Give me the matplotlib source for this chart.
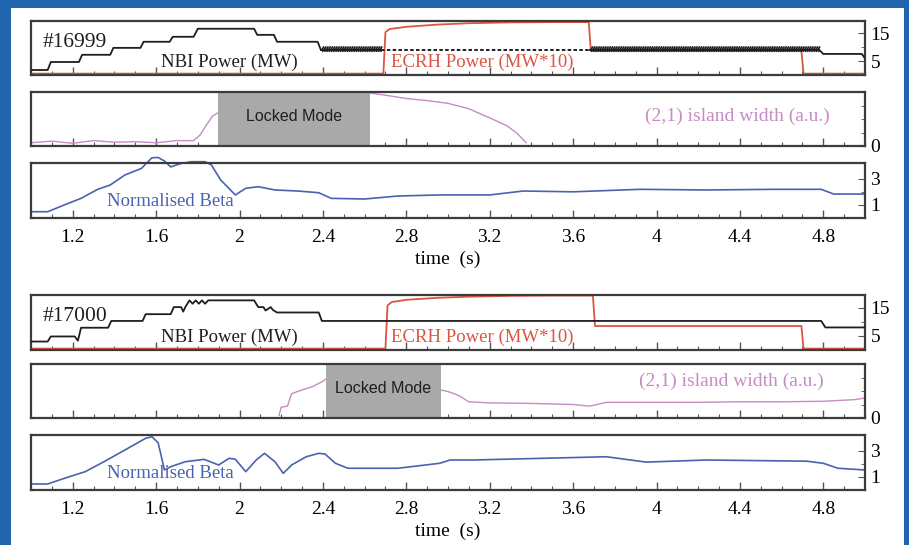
"""Two-shot overview: NBI/ECRH power, (2,1) island width and normalised beta."""
import matplotlib
matplotlib.use("Agg")
import matplotlib.pyplot as plt
import matplotlib.patheffects as pe
from matplotlib.patches import Rectangle
from matplotlib.ticker import FixedLocator, MultipleLocator

W, H = 909, 545

# ---- shot 16999 ----
SHOT_A = "#16999"
NBI_A_T = [1.0, 1.08, 1.095, 1.23, 1.245, 1.38, 1.395, 1.525, 1.54, 1.665, 1.68, 1.78, 1.80,
           2.07, 2.085, 2.165, 2.18, 2.375, 2.39]
NBI_A_P = [1.8, 1.8, 4.7, 4.7, 7.3, 7.3, 9.8, 9.8, 12.0, 12.0, 13.8, 13.8, 16.7,
           16.7, 14.5, 14.5, 12.0, 12.0, 9.1]
NBI_A_MOD_LEVEL = 9.1
NBI_A_ZIG = [(2.39, 2.68), (3.68, 4.78)]
NBI_A_DOT = [(2.68, 3.68)]
NBI_A_TAIL_T = [4.78, 4.80, 4.985, 5.0]
NBI_A_TAIL_P = [9.1, 7.6, 7.6, 6.0]
ECRH_A_T = [1.0, 2.69, 2.70, 2.72, 2.80, 2.95, 3.10, 3.30, 3.50, 3.675, 3.685, 4.695, 4.705, 5.0]
ECRH_A_P = [0.5, 0.5, 15.5, 16.6, 17.4, 18.2, 18.7, 19.0, 19.1, 19.1, 8.8, 8.8, 0.5, 0.5]
LM_A = (1.898, 2.628)
ISL_A_PRE_T = [1.0, 1.1, 1.2, 1.3, 1.4, 1.5, 1.6, 1.7, 1.78, 1.81, 1.84, 1.87, 1.898]
ISL_A_PRE_W = [0.06, 0.09, 0.05, 0.10, 0.07, 0.08, 0.06, 0.10, 0.10, 0.20, 0.38, 0.55, 0.62]
ISL_A_POST_T = [2.628, 2.70, 2.80, 2.90, 3.00, 3.10, 3.20, 3.28, 3.33, 3.375]
ISL_A_POST_W = [0.98, 0.94, 0.88, 0.84, 0.79, 0.69, 0.52, 0.38, 0.24, 0.06]
BETA_A_T = [1.0, 1.08, 1.16, 1.24, 1.32, 1.38, 1.45, 1.53, 1.58, 1.61, 1.64, 1.67, 1.72, 1.77,
            1.835, 1.865, 1.91, 1.98, 2.03, 2.09, 2.17, 2.28, 2.38, 2.44, 2.60, 2.76, 2.96,
            3.20, 3.36, 3.60, 3.92, 4.24, 4.56, 4.79, 4.85, 5.0]
BETA_A_V = [0.48, 0.48, 1.0, 1.5, 2.19, 2.52, 3.28, 3.79, 4.6, 4.62, 4.35, 3.9, 4.17, 4.3,
            4.3, 4.05, 2.9, 1.76, 2.27, 2.39, 2.14, 2.06, 1.93, 1.5, 1.45, 1.68, 1.76,
            1.76, 2.06, 2.0, 2.19, 2.14, 2.19, 2.19, 1.83, 1.83]

# ---- shot 17000 ----
SHOT_B = "#17000"
NBI_B_T = [1.0, 1.08, 1.095, 1.21, 1.225, 1.24, 1.37, 1.385, 1.535, 1.55, 1.67, 1.685, 1.72,
           1.73, 1.74, 1.76, 1.775, 1.79, 1.805, 1.82, 1.835, 1.85, 1.88, 2.07, 2.09, 2.115,
           2.125, 2.15, 2.16, 2.18, 2.20, 2.38, 2.395, 4.79, 4.81, 5.0]
NBI_B_P = [3.0, 3.0, 4.8, 4.8, 3.3, 7.9, 7.9, 10.3, 10.3, 12.7, 12.7, 15.2, 15.2,
           13.6, 15.2, 17.6, 16.4, 17.6, 16.4, 17.6, 16.4, 17.6, 17.6, 17.6, 15.2, 15.2,
           14.0, 15.2, 14.2, 13.3, 13.3, 13.3, 10.3, 10.3, 8.0, 8.0]
ECRH_B_T = [1.0, 2.70, 2.71, 2.73, 2.80, 2.95, 3.10, 3.30, 3.50, 3.695, 3.705, 4.695, 4.705, 5.0]
ECRH_B_P = [0.5, 0.5, 15.8, 17.0, 17.8, 18.5, 18.9, 19.2, 19.3, 19.3, 8.5, 8.5, 0.5, 0.5]
LM_B = (2.413, 2.966)
ISL_B_PRE_T = [2.19, 2.20, 2.23, 2.25, 2.30, 2.35, 2.40, 2.413]
ISL_B_PRE_W = [0.05, 0.20, 0.22, 0.45, 0.52, 0.58, 0.68, 0.72]
ISL_B_POST_T = [2.966, 3.00, 3.05, 3.10, 3.20, 3.40, 3.60, 3.68, 3.76, 4.00, 4.20, 4.40,
                4.60, 4.80, 4.95, 5.0]
ISL_B_POST_W = [0.52, 0.49, 0.42, 0.30, 0.28, 0.27, 0.25, 0.22, 0.29, 0.29, 0.29, 0.30,
                0.30, 0.31, 0.34, 0.37]
BETA_B_T = [1.0, 1.08, 1.16, 1.26, 1.35, 1.45, 1.55, 1.58, 1.61, 1.64, 1.67, 1.74, 1.83,
            1.90, 1.95, 1.98, 2.03, 2.08, 2.12, 2.17, 2.21, 2.25, 2.32, 2.38, 2.41, 2.46,
            2.52, 2.76, 2.96, 3.01, 3.12, 3.76, 3.95, 4.24, 4.72, 4.80, 4.87, 5.0]
BETA_B_V = [0.46, 0.46, 0.89, 1.4, 2.16, 3.05, 3.95, 4.07, 3.6, 1.53, 1.78, 2.16, 2.34,
            1.91, 2.42, 2.35, 1.4, 2.29, 2.8, 2.16, 1.27, 1.91, 2.54, 2.8, 2.75, 2.04,
            1.66, 1.66, 2.04, 2.29, 2.29, 2.54, 2.13, 2.29, 2.2, 2.04, 1.66, 1.53]

X_MAJOR = [1.2, 1.6, 2.0, 2.4, 2.8, 3.2, 3.6, 4.0, 4.4, 4.8]
X_LABELS = ["1.2", "1.6", "2", "2.4", "2.8", "3.2", "3.6", "4", "4.4", "4.8"]

BLUE_FRAME = "#2166ac"
C_NBI = "#1e1e1e"
C_ECRH = "#dc5540"
C_ISL = "#c58cc5"
C_BETA = "#4a62b0"
C_LM = "#a9a9a9"
SERIF = ["Liberation Serif", "DejaVu Serif"]
SANS = ["Liberation Sans", "DejaVu Sans"]

plt.rcParams["font.family"] = SERIF


def add_axes(top, bottom):
    left, right = 31, 865
    return fig.add_axes([left / W, 1 - bottom / H, (right - left) / W, (bottom - top) / H])


def style(ax, show_x):
    ax.set_xlim(1.0, 5.0)
    ax.xaxis.set_major_locator(FixedLocator(X_MAJOR))
    ax.xaxis.set_minor_locator(MultipleLocator(0.1))
    ax.yaxis.tick_right()
    ax.tick_params(axis="x", which="both", direction="in", color="#555555", labelsize=14, pad=8)
    ax.tick_params(axis="x", which="major", length=6, width=1)
    ax.tick_params(axis="x", which="minor", length=3, width=0.8)
    ax.tick_params(axis="y", which="both", direction="in", color="#555555", labelsize=14, pad=4,
                   left=False, right=True)
    ax.tick_params(axis="y", which="major", length=5)
    ax.tick_params(axis="y", which="minor", length=3)
    for sp in ax.spines.values():
        sp.set_color("#3c3c3c")
        sp.set_linewidth(1.6)
    if show_x:
        ax.set_xticklabels(X_LABELS)
        ax.set_xlabel("time  (s)", fontsize=14, labelpad=3)
    else:
        ax.tick_params(axis="x", labelbottom=False)


def power_panel(ax, shot, nbi_t, nbi_p, ecrh_t, ecrh_p):
    tr = ax.get_xaxis_transform()
    ax.plot(ecrh_t, ecrh_p, color=C_ECRH, lw=1.3, zorder=2)
    ax.plot(nbi_t, nbi_p, color=C_NBI, lw=1.3, zorder=3)
    ax.set_ylim(0, 19.5)
    ax.yaxis.set_major_locator(FixedLocator([5, 15]))
    ax.yaxis.set_minor_locator(FixedLocator([10]))
    ax.text(1.054, 0.61, shot, transform=tr, fontsize=15.5, ha="left", va="center",
            color="#1e1e1e", zorder=4,
            bbox=dict(facecolor="white", edgecolor="none", pad=0.3))
    ax.text(1.95, 0.23, "NBI Power (MW)", transform=tr, fontsize=13.5,
            ha="center", va="center", color="#1e1e1e")
    ax.text(2.725, 0.23, "ECRH Power (MW*10)", transform=tr, fontsize=13.5,
            ha="left", va="center", color=C_ECRH)


def island_panel(ax, lm, pre_t, pre_w, post_t, post_w, text_x, text_y):
    tr = ax.get_xaxis_transform()
    ax.plot(pre_t, pre_w, color=C_ISL, lw=1.0)
    ax.plot(post_t, post_w, color=C_ISL, lw=1.0)
    ax.axvspan(lm[0], lm[1], color=C_LM, lw=0, zorder=2.2)
    ax.text((lm[0] + lm[1]) / 2, 0.55, "Locked Mode", transform=tr,
            family=SANS, fontsize=11.5, ha="center", va="center", color="#1e1e1e", zorder=4)
    ax.text(text_x, text_y, "(2,1) island width (a.u.)", transform=tr,
            fontsize=14, ha="center", va="center", color=C_ISL)
    ax.set_ylim(0, 1.0)
    ax.yaxis.set_major_locator(FixedLocator([0]))
    ax.yaxis.set_minor_locator(FixedLocator([0.25, 0.5, 0.75]))


def beta_panel(ax, t, v):
    ax.plot(t, v, color=C_BETA, lw=1.2, clip_on=False)
    ax.set_ylim(0, 4.2)
    ax.yaxis.set_major_locator(FixedLocator([1, 3]))
    ax.yaxis.set_minor_locator(FixedLocator([2]))
    ax.text(1.667, 0.30, "Normalised Beta", transform=ax.get_xaxis_transform(), fontsize=13.5,
            ha="center", va="center", color=C_BETA)


fig = plt.figure(figsize=(W / 100, H / 100), dpi=100, facecolor=BLUE_FRAME)
fig.add_artist(Rectangle((11 / W, 0), (904 - 11) / W, (H - 8) / H, transform=fig.transFigure,
                         facecolor="white", edgecolor="none", zorder=0))

# shot 16999
ax = add_axes(21, 75)
power_panel(ax, SHOT_A, NBI_A_T, NBI_A_P, ECRH_A_T, ECRH_A_P)
ax.plot(NBI_A_TAIL_T, NBI_A_TAIL_P, color=C_NBI, lw=1.3, zorder=3)
for t0, t1 in NBI_A_ZIG:
    ax.plot([t0, t1], [NBI_A_MOD_LEVEL, NBI_A_MOD_LEVEL], color=C_NBI, lw=1.2, zorder=3,
            path_effects=[pe.withTickedStroke(spacing=1.6, angle=60, length=1.4),
                          pe.withTickedStroke(spacing=1.6, angle=-60, length=0.7)])
for t0, t1 in NBI_A_DOT:
    ax.plot([t0, t1], [NBI_A_MOD_LEVEL, NBI_A_MOD_LEVEL], color=C_NBI, lw=1.4, zorder=3,
            linestyle=(0, (1.8, 1.2)))
style(ax, False)

ax = add_axes(92, 146)
island_panel(ax, LM_A, ISL_A_PRE_T, ISL_A_PRE_W, ISL_A_POST_T, ISL_A_POST_W, 4.386, 0.54)
style(ax, False)

ax = add_axes(163, 218)
beta_panel(ax, BETA_A_T, BETA_A_V)
style(ax, True)

# shot 17000
ax = add_axes(295, 350)
power_panel(ax, SHOT_B, NBI_B_T, NBI_B_P, ECRH_B_T, ECRH_B_P)
style(ax, False)

ax = add_axes(364, 418)
island_panel(ax, LM_B, ISL_B_PRE_T, ISL_B_PRE_W, ISL_B_POST_T, ISL_B_POST_W, 4.36, 0.67)
style(ax, False)

ax = add_axes(435, 490)
beta_panel(ax, BETA_B_T, BETA_B_V)
style(ax, True)

fig.savefig("out.png", dpi=100, facecolor=fig.get_facecolor())
